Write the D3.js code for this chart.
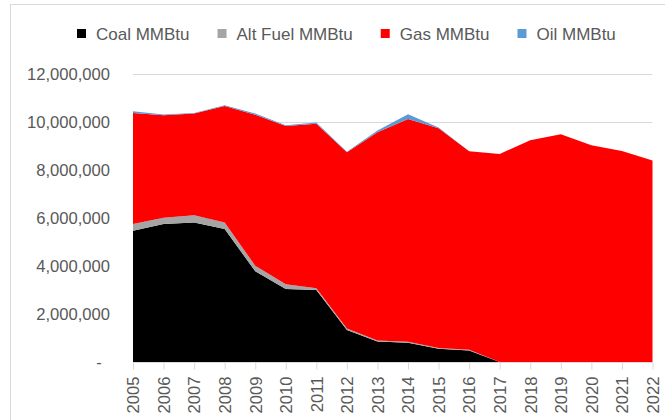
<!DOCTYPE html>
<html>
<head>
<meta charset="utf-8">
<script src="https://cdn.jsdelivr.net/npm/d3@7"></script>
<style>
  html, body { margin: 0; padding: 0; background: #fff; }
  svg { display: block; }
  text { font-family: "Liberation Sans", Arial, sans-serif; fill: #595959; }
</style>
</head>
<body>
<svg id="chart" width="665" height="420"></svg>
<script>
const years = [2005,2006,2007,2008,2009,2010,2011,2012,2013,2014,2015,2016,2017,2018,2019,2020,2021,2022];
const coal    = [5470000,5750000,5810000,5540000,3780000,3040000,3000000,1330000,850000,800000,550000,480000,0,0,0,0,0,0];
const altFuel = [280000,260000,300000,270000,230000,200000,70000,70000,50000,40000,30000,30000,0,0,0,0,0,0];
const gas     = [4630000,4270000,4240000,4860000,6290000,6590000,6860000,7340000,8670000,9280000,9160000,8270000,8670000,9240000,9490000,9030000,8790000,8400000];
const oil     = [70000,30000,30000,30000,50000,30000,50000,20000,80000,200000,30000,0,0,0,0,0,0,0];
const seriesNames = ["Coal MMBtu","Alt Fuel MMBtu","Gas MMBtu","Oil MMBtu"];
const seriesColors = ["#000000","#a5a5a5","#ff0000","#5b9bd5"];
const yTicks = [0,2000000,4000000,6000000,8000000,10000000,12000000];

const svg = d3.select("#chart");
const W = 665, H = 420;
const plot = {left: 133, right: 652.5, top: 74, bottom: 362};

// outer chart border
svg.append("rect").attr("x", 10.5).attr("y", 4.5).attr("width", 700).attr("height", 500)
  .attr("fill", "none").attr("stroke", "#d9d9d9").attr("stroke-width", 1);

const x = d3.scalePoint().domain(years).range([plot.left, plot.right]);
const y = d3.scaleLinear().domain([0, 12000000]).range([plot.bottom, plot.top]);

// gridlines
svg.append("g").selectAll("line").data(yTicks.filter(d => d > 0)).join("line")
  .attr("x1", plot.left).attr("x2", plot.right)
  .attr("y1", d => Math.round(y(d)) + 0.5).attr("y2", d => Math.round(y(d)) + 0.5)
  .attr("stroke", "#d9d9d9").attr("stroke-width", 1);

// stacked data
const table = years.map((yr, i) => ({year: yr, s0: coal[i], s1: altFuel[i], s2: gas[i], s3: oil[i]}));
const stack = d3.stack().keys(["s0","s1","s2","s3"]);
const layers = stack(table);
const area = d3.area()
  .x(d => x(d.data.year))
  .y0(d => y(d[0]))
  .y1(d => y(d[1]));

svg.append("g").selectAll("path").data(layers).join("path")
  .attr("d", area)
  .attr("fill", (d, i) => seriesColors[i]);

// y axis (labels only)
const yAxis = d3.axisLeft(y).tickValues(yTicks)
  .tickFormat(d => d === 0 ? "-\u2002" : d3.format(",")(d))
  .tickSize(0).tickPadding(0);
const gy = svg.append("g").attr("transform", "translate(110,0)").call(yAxis);
gy.select(".domain").remove();
gy.selectAll("text").attr("font-size", 16.6).attr("fill", "#595959")
  .style("font-family", '"Liberation Sans", Arial, sans-serif').style("white-space", "pre");

// x axis
const xAxis = d3.axisBottom(x).tickSize(7).tickPadding(0);
const gx = svg.append("g").attr("transform", `translate(0,${plot.bottom + 0.5})`).call(xAxis);
gx.select(".domain").attr("stroke", "#d9d9d9").attr("d", `M${plot.left},0H${plot.right}`);
gx.selectAll(".tick line").attr("stroke", "#d9d9d9");
gx.selectAll("text")
  .attr("font-size", 16.6).attr("fill", "#595959")
  .style("font-family", '"Liberation Sans", Arial, sans-serif')
  .attr("text-anchor", "end")
  .attr("transform", "translate(0,14) rotate(-90)")
  .attr("x", 0).attr("y", 0).attr("dy", "0.35em");

// legend
const legend = svg.append("g");
let lx = 77;
seriesNames.forEach((name, i) => {
  const g = legend.append("g").attr("transform", `translate(${lx},0)`);
  g.append("rect").attr("x", 0).attr("y", 29).attr("width", 9).attr("height", 9)
    .attr("fill", seriesColors[i]);
  const t = g.append("text").attr("x", 19).attr("y", 39.5)
    .attr("font-size", 17).attr("fill", "#595959").text(name);
  lx += 19 + t.node().getComputedTextLength() + 28;
});
</script>
</body>
</html>
